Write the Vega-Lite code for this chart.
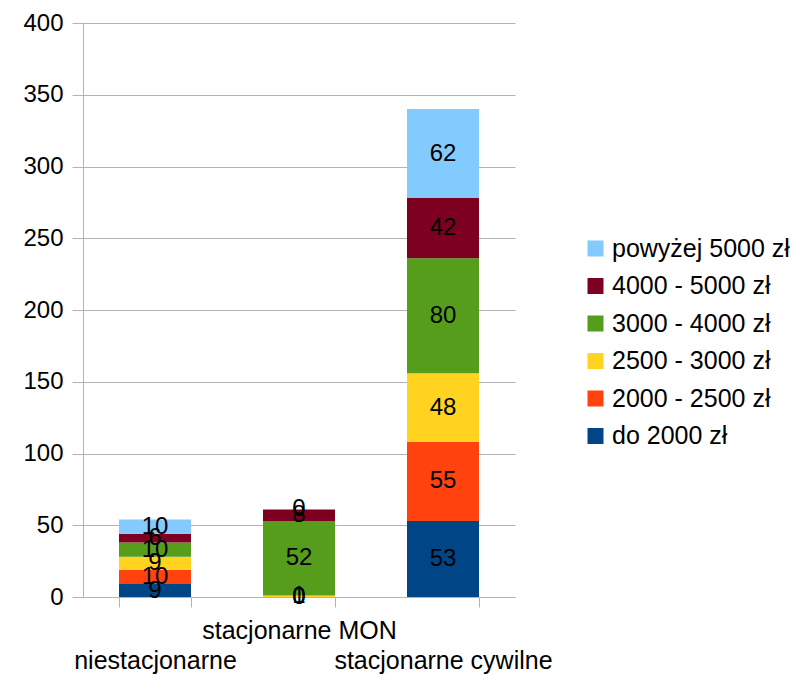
{
  "$schema": "https://vega.github.io/schema/vega-lite/v6.json",
  "width": 432,
  "height": 574,
  "autosize": {"type": "none"},
  "padding": {"left": 83, "top": 23, "right": 280, "bottom": 77},
  "background": "white",
  "config": {
    "font": "Liberation Sans",
    "view": {"stroke": null},
    "axis": {
      "labelFont": "Liberation Sans",
      "labelFontSize": 24,
      "labelColor": "black",
      "domainColor": "#b3b3b3",
      "tickColor": "#b3b3b3",
      "gridColor": "#b3b3b3",
      "title": null
    }
  },
  "data": {
    "values": [
      {"grupa": "niestacjonarne", "kat": "do 2000 zł", "k": 1, "n": 9},
      {"grupa": "niestacjonarne", "kat": "2000 - 2500 zł", "k": 2, "n": 10},
      {"grupa": "niestacjonarne", "kat": "2500 - 3000 zł", "k": 3, "n": 9},
      {"grupa": "niestacjonarne", "kat": "3000 - 4000 zł", "k": 4, "n": 10},
      {"grupa": "niestacjonarne", "kat": "4000 - 5000 zł", "k": 5, "n": 6},
      {"grupa": "niestacjonarne", "kat": "powyżej 5000 zł", "k": 6, "n": 10},
      {"grupa": "stacjonarne MON", "kat": "do 2000 zł", "k": 1, "n": 0},
      {"grupa": "stacjonarne MON", "kat": "2000 - 2500 zł", "k": 2, "n": 0},
      {"grupa": "stacjonarne MON", "kat": "2500 - 3000 zł", "k": 3, "n": 1},
      {"grupa": "stacjonarne MON", "kat": "3000 - 4000 zł", "k": 4, "n": 52},
      {"grupa": "stacjonarne MON", "kat": "4000 - 5000 zł", "k": 5, "n": 8},
      {"grupa": "stacjonarne MON", "kat": "powyżej 5000 zł", "k": 6, "n": 0},
      {"grupa": "stacjonarne cywilne", "kat": "do 2000 zł", "k": 1, "n": 53},
      {"grupa": "stacjonarne cywilne", "kat": "2000 - 2500 zł", "k": 2, "n": 55},
      {"grupa": "stacjonarne cywilne", "kat": "2500 - 3000 zł", "k": 3, "n": 48},
      {"grupa": "stacjonarne cywilne", "kat": "3000 - 4000 zł", "k": 4, "n": 80},
      {"grupa": "stacjonarne cywilne", "kat": "4000 - 5000 zł", "k": 5, "n": 42},
      {"grupa": "stacjonarne cywilne", "kat": "powyżej 5000 zł", "k": 6, "n": 62}
    ]
  },
  "encoding": {
    "x": {
      "field": "grupa",
      "type": "nominal",
      "sort": ["niestacjonarne", "stacjonarne MON", "stacjonarne cywilne"],
      "scale": {"paddingInner": 0.5, "paddingOuter": 0.25},
      "axis": {
        "labelAngle": 0,
        "labelFontSize": 25,
        "tickBand": "extent",
        "tickSize": 10,
        "labelPadding": 11,
        "labelBaseline": "top",
        "labelLineHeight": 30,
        "labelLimit": 400,
        "labelOverlap": false,
        "labelExpr": "datum.value == 'stacjonarne MON' ? datum.label : ['', datum.label]"
      }
    },
    "y": {
      "field": "n",
      "type": "quantitative",
      "stack": "zero",
      "scale": {"domain": [0, 400]},
      "axis": {
        "values": [0, 50, 100, 150, 200, 250, 300, 350, 400],
        "tickSize": 11,
        "labelPadding": 9,
        "grid": true
      }
    },
    "order": {"field": "k", "type": "quantitative"}
  },
  "layer": [
    {
      "mark": {"type": "bar"},
      "encoding": {
        "color": {
          "field": "kat",
          "type": "nominal",
          "scale": {
            "domain": ["powyżej 5000 zł", "4000 - 5000 zł", "3000 - 4000 zł", "2500 - 3000 zł", "2000 - 2500 zł", "do 2000 zł"],
            "range": ["#83caff", "#7e0021", "#579d1c", "#ffd320", "#ff420e", "#004586"]
          },
          "legend": {
            "title": null,
            "orient": "none",
            "legendX": 500,
            "legendY": 213,
            "symbolType": "square",
            "symbolSize": 256,
            "symbolStrokeWidth": 0,
            "symbolOpacity": 1,
            "labelFontSize": 25,
            "labelFont": "Liberation Sans",
            "labelColor": "black",
            "labelOffset": 4,
            "rowPadding": 11.5,
            "labelLimit": 300
          }
        }
      }
    },
    {
      "mark": {"type": "text", "fontSize": 24, "color": "black", "font": "Liberation Sans", "baseline": "middle"},
      "encoding": {
        "y": {"field": "n", "type": "quantitative", "stack": "zero", "bandPosition": 0.5},
        "detail": {"field": "kat"},
        "text": {"field": "n", "type": "quantitative"}
      }
    }
  ]
}
